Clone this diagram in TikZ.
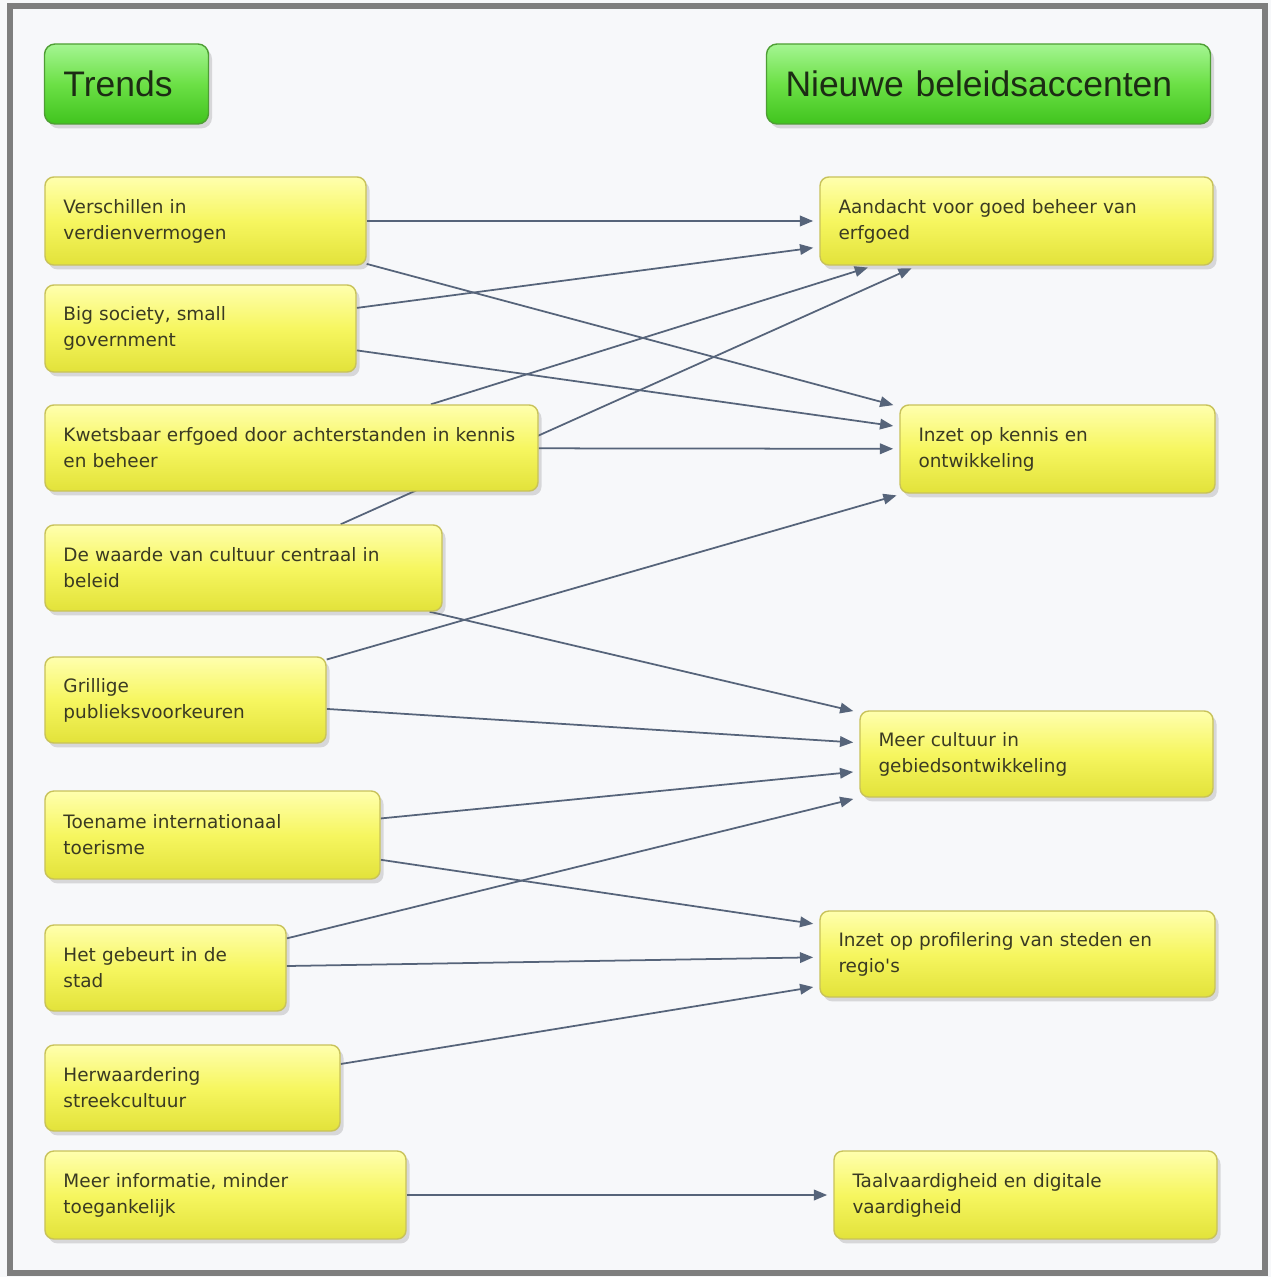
\documentclass[tikz,border=0pt]{standalone}
\usepackage{fontspec}
\setmainfont{DejaVu Sans}
\newfontfamily\headfont{Liberation Sans}
\usetikzlibrary{arrows.meta,shadows}
\definecolor{bgc}{HTML}{F7F8FA}
\definecolor{framec}{HTML}{7E7E7E}
\definecolor{ytop}{HTML}{FFFFAE}
\definecolor{ymid}{HTML}{F6F660}
\definecolor{ybot}{HTML}{E2E23A}
\definecolor{ybord}{HTML}{C8C25A}
\definecolor{gtop}{HTML}{A4F592}
\definecolor{gmid}{HTML}{6CE046}
\definecolor{gbot}{HTML}{40C41E}
\definecolor{gbord}{HTML}{4E9E34}
\definecolor{ytext}{HTML}{3A3A22}
\definecolor{gtext}{HTML}{1C2C14}
\definecolor{linec}{HTML}{56647A}
\pgfdeclarelayer{bglayer}
\pgfdeclarelayer{edgelayer}
\pgfsetlayers{bglayer,edgelayer,main}
\tikzset{
  ybox/.style={draw=ybord, line width=0.8pt, rounded corners=5pt,
    top color=ytop, bottom color=ybot, middle color=ymid,
    inner xsep=0.36cm, inner ysep=0pt, align=left, text=ytext,
    font=\fontsize{10.5pt}{14.7pt}\selectfont,
    drop shadow={shadow xshift=2pt, shadow yshift=-2.5pt, opacity=0.22, fill=black!60}},
  gbox/.style={draw=gbord, line width=0.8pt, rounded corners=6pt,
    top color=gtop, bottom color=gbot, middle color=gmid,
    inner xsep=0.38cm, inner ysep=0pt, align=left, text=gtext,
    font=\headfont\fontsize{20.2pt}{24pt}\selectfont,
    drop shadow={shadow xshift=2pt, shadow yshift=-2.5pt, opacity=0.22, fill=black!60}},
  link/.style={draw=linec, line width=1pt, shorten >=3.5pt,
    -{Triangle[length=7.5pt,width=6pt]}}
}
% #1 style, #2 name, #3 x1, #4 y1, #5 x2, #6 y2, #7 text
\newcommand\mkbox[7]{%
  \pgfmathsetmacro\bw{(#5-#3)*0.02}%
  \pgfmathsetmacro\bh{(#6-#4)*0.02}%
  \pgfmathsetmacro\tw{(#5-#3-37)*0.02}%
  \node[#1, minimum width=\bw cm, minimum height=\bh cm, text width=\tw cm]
    (#2) at ({(#3+#5)/2},{(#4+#6)/2}) {#7};%
}
\begin{document}
\begin{tikzpicture}[x=0.02cm, y=-0.02cm]
\useasboundingbox (0,0) rectangle (1271,1277);
\begin{pgfonlayer}{bglayer}
  \fill[bgc] (0,0) rectangle (1271,1277);
  \draw[framec, line width=0.12cm] (10,6) rectangle (1265,1273);
\end{pgfonlayer}

\mkbox{gbox}{trends}{45}{44}{208}{124}{Trends}
\mkbox{gbox}{nieuwe}{767}{44}{1210}{124}{Nieuwe beleidsaccenten}

\mkbox{ybox}{v}{45}{177}{366}{265}{Verschillen in\\verdienvermogen}
\mkbox{ybox}{b}{45}{285}{356}{372}{Big society, small\\government}
\mkbox{ybox}{k}{45}{405}{538}{491}{Kwetsbaar erfgoed door achterstanden in kennis\\en beheer}
\mkbox{ybox}{d}{45}{525}{442}{611}{De waarde van cultuur centraal in\\beleid}
\mkbox{ybox}{g}{45}{657}{326}{743}{Grillige\\publieksvoorkeuren}
\mkbox{ybox}{t}{45}{791}{380}{879}{Toename internationaal\\toerisme}
\mkbox{ybox}{h}{45}{925}{286}{1011}{Het gebeurt in de\\stad}
\mkbox{ybox}{w}{45}{1045}{340}{1131}{Herwaardering\\streekcultuur}
\mkbox{ybox}{m}{45}{1151}{406}{1239}{Meer informatie, minder\\toegankelijk}

\mkbox{ybox}{A}{820}{177}{1213}{265}{Aandacht voor goed beheer van\\erfgoed}
\mkbox{ybox}{B}{900}{405}{1215}{493}{Inzet op kennis en\\ontwikkeling}
\mkbox{ybox}{C}{860}{711}{1213}{797}{Meer cultuur in\\gebiedsontwikkeling}
\mkbox{ybox}{D}{820}{911}{1215}{997}{Inzet op profilering van steden en\\regio\textquotesingle s}
\mkbox{ybox}{E}{834}{1151}{1217}{1239}{Taalvaardigheid en digitale\\vaardigheid}

\begin{pgfonlayer}{edgelayer}
  \draw[link] (v) -- (A);
  \draw[link] (v) -- (B);
  \draw[link] (b) -- (A);
  \draw[link] (b) -- (B);
  \draw[link] (k) -- (A);
  \draw[link] (k) -- (B);
  \draw[link] (d) -- (A);
  \draw[link] (d) -- (C);
  \draw[link] (g) -- (B);
  \draw[link] (g) -- (C);
  \draw[link] (t) -- (C);
  \draw[link] (t) -- (D);
  \draw[link] (h) -- (C);
  \draw[link] (h) -- (D);
  \draw[link] (w) -- (D);
  \draw[link] (m) -- (E);
\end{pgfonlayer}
\end{tikzpicture}
\end{document}
